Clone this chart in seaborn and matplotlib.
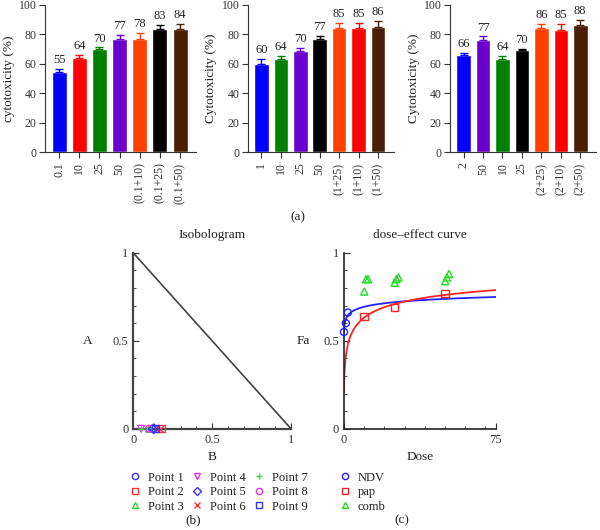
import numpy as np
import pandas as pd
import matplotlib
matplotlib.use("Agg")
import matplotlib.pyplot as plt
from matplotlib.lines import Line2D
from matplotlib.ticker import MultipleLocator
import seaborn as sns

# bar panels (a)
labels_1 = ["0.1", "10", "25", "50", "(0.1+10)", "(0.1+25)", "(0.1+50)"]
heights_1 = [54.5, 64, 70, 77, 77, 83.5, 83.5]
errors_1 = [2, 2, 1, 2.5, 4, 2.5, 3.5]
text_1 = ["55", "64", "70", "77", "78", "83", "84"]

labels_2 = ["1", "10", "25", "50", "(1+25)", "(1+10)", "(1+50)"]
heights_2 = [60, 63.5, 68.5, 77, 84.5, 84.5, 85]
errors_2 = [3, 2, 2, 2, 3, 3, 4]
text_2 = ["60", "64", "70", "77", "85", "85", "86"]

labels_3 = ["2", "50", "10", "25", "(2+25)", "(2+10)", "(2+50)"]
heights_3 = [66, 76, 63.5, 69, 84.5, 83, 86.5]
errors_3 = [1.5, 2.5, 2, 1, 2.5, 4, 3]
text_3 = ["66", "77", "64", "70", "86", "85", "88"]

BLUE, RED, GREEN, PURPLE = "#0000ff", "#ff0000", "#008000", "#6a00cc"
ORANGE, BLACK, BROWN = "#ff4000", "#000000", "#4a1e05"
colors_1 = [BLUE, RED, GREEN, PURPLE, ORANGE, BLACK, BROWN]
colors_2 = [BLUE, GREEN, PURPLE, BLACK, ORANGE, RED, BROWN]
colors_3 = [BLUE, PURPLE, GREEN, BLACK, ORANGE, RED, BROWN]

# isobologram (b)
iso_names = ["Point 1", "Point 2", "Point 3", "Point 4", "Point 5",
             "Point 6", "Point 7", "Point 8", "Point 9"]
iso_b = [0.12, 0.18, 0.10, 0.05, 0.13, 0.17, 0.05, 0.10, 0.14]
iso_a = [0.0, 0.0, 0.0, 0.0, 0.0, 0.0, 0.0, 0.0, 0.0]
iso_markers = ["o", "s", "^", "v", "D", "x", "+", "o", "s"]
iso_colors = ["#3333ff", "#ff3333", "#33dd33", "#ee33ee", "#3333ff",
              "#ff3333", "#33dd33", "#ee33ee", "#3333ff"]

# dose-effect (c)
ndv_dose = [0.1, 1, 2]
ndv_fa = [0.55, 0.60, 0.66]
pap_dose = [10, 25, 50]
pap_fa = [0.64, 0.69, 0.77]
comb_dose = [10.1, 25.1, 50.1, 11, 26, 51, 12, 27, 52]
comb_fa = [0.78, 0.83, 0.84, 0.85, 0.85, 0.86, 0.85, 0.86, 0.88]

sns.set_style("ticks")
plt.rcParams["font.family"] = ["Liberation Serif", "DejaVu Serif"]
plt.rcParams["text.color"] = "#222222"
plt.rcParams["axes.edgecolor"] = "#333333"
plt.rcParams["xtick.color"] = "#333333"
plt.rcParams["ytick.color"] = "#333333"
plt.rcParams["axes.labelcolor"] = "#222222"

fig = plt.figure(figsize=(6, 5.3), dpi=100)


def bar_panel(rect, labels, heights, errors, texts, colors, ylabel):
    ax = fig.add_axes(rect)
    df = pd.DataFrame({"dose": labels, "cyt": heights})
    sns.barplot(data=df, x="dose", y="cyt", hue="dose", palette=colors,
                legend=False, width=0.75, ax=ax, saturation=1)
    xs = np.arange(len(labels))
    for x, h, e, c, t in zip(xs, heights, errors, colors, texts):
        ax.errorbar(x, h, yerr=[[0], [e]], fmt="none", ecolor=c,
                    elinewidth=1, capsize=3, capthick=1)
        ax.text(x, h + e + 2, t, ha="center", va="bottom", fontsize=9)
    ax.set_ylim(0, 100)
    ax.set_xlim(-0.7, 6.8)
    ax.set_yticks([0, 20, 40, 60, 80, 100])
    ax.tick_params(axis="x", rotation=90, labelsize=8.5, length=4)
    ax.tick_params(axis="y", labelsize=8.5, length=4, pad=2)
    ax.set_xlabel("")
    ax.set_ylabel(ylabel, fontsize=9.5, labelpad=3)
    sns.despine(ax=ax)
    return ax


bar_panel([0.075, 0.713, 0.252, 0.278], labels_1, heights_1, errors_1,
          text_1, colors_1, "cytotoxicity (%)")
bar_panel([0.413, 0.713, 0.243, 0.278], labels_2, heights_2, errors_2,
          text_2, colors_2, "Cytotoxicity (%)")
bar_panel([0.750, 0.713, 0.243, 0.278], labels_3, heights_3, errors_3,
          text_3, colors_3, "Cytotoxicity (%)")
fig.text(0.497, 0.590, "(a)", ha="center", va="center", fontsize=9.5)

# isobologram
ax4 = fig.add_axes([0.222, 0.191, 0.263, 0.332])
ax4.plot([0, 1], [1, 0], color="#444444", lw=1.2)
for b, a, m, c, n in zip(iso_b, iso_a, iso_markers, iso_colors, iso_names):
    ax4.scatter(b, a, marker=m, s=24, facecolors="none" if m not in "x+" else c,
                edgecolors=c if m not in "x+" else None, linewidths=1,
                clip_on=False, zorder=3)
ax4.set_xlim(0, 1)
ax4.set_ylim(0, 1)
ax4.set_xticks([0, 0.5, 1])
ax4.set_xticklabels(["0", "0.5", "1"])
ax4.set_yticks([0, 0.5, 1])
ax4.set_yticklabels(["0", "0.5", "1"])
ax4.xaxis.set_minor_locator(MultipleLocator(0.1))
ax4.yaxis.set_minor_locator(MultipleLocator(0.1))
ax4.tick_params(which="both", direction="in", labelsize=9)
ax4.tick_params(which="major", length=4)
ax4.tick_params(which="minor", length=2.5)
for s in ["left", "bottom"]:
    ax4.spines[s].set_linewidth(1.6)
    ax4.spines[s].set_color("#444444")
sns.despine(ax=ax4)
ax4.set_title("Isobologram", fontsize=9.5, pad=11)
ax4.set_xlabel("B", fontsize=9.5, labelpad=4)
ax4.set_ylabel("A", fontsize=9.5, rotation=0, labelpad=18, va="center")

# dose-effect curve
ax5 = fig.add_axes([0.573, 0.191, 0.253, 0.332])


def median_effect(dose, fa, lo, hi):
    # fit log(fa/(1-fa)) = m*log(D) - m*log(Dm)
    d = np.asarray(dose, float)
    f = np.asarray(fa, float)
    m, b = np.polyfit(np.log(d), np.log(f / (1 - f)), 1)
    xx = np.linspace(lo, hi, 400)
    r = np.exp(m * np.log(xx) + b)
    return xx, r / (1 + r)


xb, yb = median_effect(ndv_dose, ndv_fa, 0.1, 75)
xr, yr = median_effect(pap_dose, pap_fa, 0.08, 75)
sns.lineplot(x=xb, y=yb, color="#2222ff", lw=1.3, ax=ax5)
sns.lineplot(x=xr, y=yr, color="#ff2222", lw=1.3, ax=ax5)
ax5.scatter(ndv_dose, ndv_fa, marker="o", s=26, facecolors="none",
            edgecolors="#2222ff", linewidths=1, clip_on=False, zorder=3)
ax5.scatter(pap_dose, pap_fa, marker="s", s=26, facecolors="none",
            edgecolors="#ff2222", linewidths=1, zorder=3)
ax5.scatter(comb_dose, comb_fa, marker="^", s=26, facecolors="none",
            edgecolors="#22dd22", linewidths=1, zorder=3)
ax5.set_xlim(0, 75)
ax5.set_ylim(0, 1)
ax5.set_xticks([0, 75])
ax5.set_yticks([0, 0.5, 1])
ax5.set_yticklabels(["0", "0.5", "1"])
ax5.xaxis.set_minor_locator(MultipleLocator(10))
ax5.yaxis.set_minor_locator(MultipleLocator(0.1))
ax5.tick_params(which="both", direction="in", labelsize=9)
ax5.tick_params(which="major", length=4)
ax5.tick_params(which="minor", length=2.5)
for s in ["left", "bottom"]:
    ax5.spines[s].set_linewidth(1.2)
    ax5.spines[s].set_color("#222222")
sns.despine(ax=ax5)
ax5.set_title("dose\u2013effect curve", fontsize=9.5, pad=11)
ax5.set_xlabel("Dose", fontsize=9.5, labelpad=4)
ax5.set_ylabel("Fa", fontsize=9.5, rotation=0, labelpad=14, va="center")

# legends
iso_handles = []
for m, c, n in zip(iso_markers, iso_colors, iso_names):
    iso_handles.append(Line2D([], [], ls="none", marker=m, color=c,
                              markerfacecolor="none", markersize=4.5,
                              markeredgewidth=1, label=n))
fig.legend(handles=iso_handles, ncol=3, loc="upper left",
           bbox_to_anchor=(0.215, 0.110), frameon=False, fontsize=9,
           handlelength=1, handletextpad=0.5, columnspacing=0.6,
           labelspacing=0.2, borderaxespad=0, borderpad=0)
dose_handles = [
    Line2D([], [], ls="none", marker="o", color="#2222ff",
           markerfacecolor="none", markersize=4.5, label="NDV"),
    Line2D([], [], ls="none", marker="s", color="#ff2222",
           markerfacecolor="none", markersize=4.5, label="pap"),
    Line2D([], [], ls="none", marker="^", color="#22dd22",
           markerfacecolor="none", markersize=4.5, label="comb"),
]
fig.legend(handles=dose_handles, loc="upper left",
           bbox_to_anchor=(0.565, 0.110), frameon=False, fontsize=9,
           handlelength=1, handletextpad=0.5, labelspacing=0.2,
           borderaxespad=0, borderpad=0)

fig.text(0.322, 0.019, "(b)", ha="center", va="center", fontsize=9.5)
fig.text(0.670, 0.019, "(c)", ha="center", va="center", fontsize=9.5)

fig.savefig("out.png", dpi=100)
